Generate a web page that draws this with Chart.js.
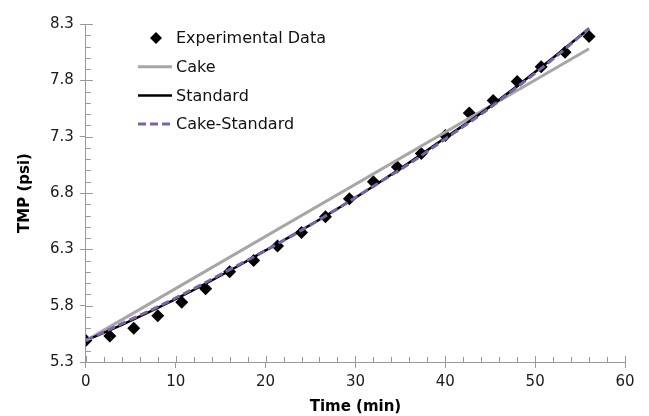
<!DOCTYPE html>
<html>
<head>
<meta charset="utf-8">
<title>TMP vs Time</title>
<script src="https://cdn.jsdelivr.net/npm/chart.js@4.4.1/dist/chart.umd.min.js"></script>
<style>
  html, body { margin: 0; padding: 0; background: #fff; }
  #wrap { width: 649px; height: 416px; }
</style>
</head>
<body>
<div id="wrap"><canvas id="chart" width="649" height="416"></canvas></div>
<script>
/* ---------- data ---------- */
const expTime = [0, 2.67, 5.33, 8, 10.67, 13.33, 16, 18.67, 21.33, 24, 26.67,
                 29.33, 32, 34.67, 37.33, 40, 42.67, 45.33, 48, 50.67, 53.33, 56];
const expTmp  = [5.49, 5.53, 5.60, 5.71, 5.83, 5.95, 6.10, 6.20, 6.33, 6.45, 6.59,
                 6.75, 6.90, 7.03, 7.15, 7.31, 7.51, 7.62, 7.79, 7.92, 8.05, 8.19];

const cakeTime = [0, 56];
const cakeTmp  = [5.49, 8.08];

const modelTime   = [0, 4, 8, 12, 16, 20, 24, 28, 32, 36, 40, 44, 48, 52, 56];
const standardTmp = [5.49, 5.63, 5.78, 5.94, 6.11, 6.29, 6.47, 6.66, 6.86, 7.07, 7.29, 7.51, 7.75, 8.00, 8.26];
const cakeStdTmp  = [5.49, 5.64, 5.79, 5.95, 6.12, 6.29, 6.47, 6.66, 6.86, 7.06, 7.28, 7.50, 7.74, 7.99, 8.26];

const yTicks = [5.3, 5.8, 6.3, 6.8, 7.3, 7.8, 8.3];
const xTicks = [0, 10, 20, 30, 40, 50, 60];

const FONT = '"DejaVu Sans", "Liberation Sans", Arial, sans-serif';
const AXIS = '#999999';

const pts = (xs, ys) => xs.map((x, i) => ({ x, y: ys[i] }));

/* ---------- legend inside the plot (like the Excel one) ---------- */
const legendBox = { x: 138, y: 38, row: 28.7, sample: 34, gap: 4 };

const insideLegend = {
  id: 'insideLegend',
  afterDraw(chart){
    const ctx = chart.ctx;
    const sets = chart.data.datasets.slice().sort((a, b) => a.legendIdx - b.legendIdx);
    ctx.save();
    ctx.font = '16px ' + FONT;
    ctx.textBaseline = 'middle';
    ctx.fillStyle = '#111';
    sets.forEach((ds, i) => {
      const y = legendBox.y + i * legendBox.row;
      const x0 = legendBox.x, x1 = legendBox.x + legendBox.sample;
      if(ds.showLine === false){
        const cx = (x0 + x1) / 2 + 1, r = 6;
        ctx.beginPath();
        ctx.moveTo(cx - r, y); ctx.lineTo(cx, y - r);
        ctx.lineTo(cx + r, y); ctx.lineTo(cx, y + r);
        ctx.closePath();
        ctx.fillStyle = ds.backgroundColor;
        ctx.fill();
      }else{
        ctx.beginPath();
        ctx.setLineDash(ds.borderDash || []);
        ctx.strokeStyle = ds.borderColor;
        ctx.lineWidth = ds.borderWidth;
        ctx.moveTo(x0, y); ctx.lineTo(x1, y);
        ctx.stroke();
        ctx.setLineDash([]);
      }
      ctx.fillStyle = '#111';
      ctx.fillText(ds.label, x1 + legendBox.gap, y + 1);
    });
    ctx.restore();
  }
};

/* ---------- inner / minor tick marks ---------- */
const minorTicks = {
  id: 'minorTicks',
  afterDraw(chart){
    const { ctx, scales: { x, y } } = chart;
    ctx.save();
    ctx.strokeStyle = AXIS;
    ctx.lineWidth = 1;
    ctx.beginPath();
    for(let v = 0; v <= 60; v += 2){
      const px = Math.round(x.getPixelForValue(v)) + 0.5;
      const len = v % 10 === 0 ? 6 : 5;
      ctx.moveTo(px, y.bottom); ctx.lineTo(px, y.bottom - len);
    }
    for(let k = 0; k <= 30; k++){
      const v = 5.3 + k * 0.1;
      const py = Math.round(y.getPixelForValue(v)) + 0.5;
      const len = k % 5 === 0 ? 7 : 5;
      ctx.moveTo(x.left, py); ctx.lineTo(x.left + len, py);
    }
    ctx.stroke();
    ctx.restore();
  }
};

/* ---------- chart ---------- */
const axisCommon = {
  type: 'linear',
  grid: { display: true, drawOnChartArea: false, drawTicks: true, tickLength: 6, color: AXIS },
  border: { display: true, color: AXIS, width: 1 }
};

new Chart(document.getElementById('chart').getContext('2d'), {
  type: 'scatter',
  data: {
    datasets: [
      {
        label: 'Cake-Standard', legendIdx: 3,
        data: pts(modelTime, cakeStdTmp),
        showLine: true, borderColor: '#7a62ab', borderWidth: 3, borderDash: [8, 4],
        pointRadius: 0, tension: 0.4, cubicInterpolationMode: 'monotone'
      },
      {
        label: 'Standard', legendIdx: 2,
        data: pts(modelTime, standardTmp),
        showLine: true, borderColor: '#000000', borderWidth: 2.5,
        pointRadius: 0, tension: 0.4, cubicInterpolationMode: 'monotone'
      },
      {
        label: 'Cake', legendIdx: 1,
        data: pts(cakeTime, cakeTmp),
        showLine: true, borderColor: '#a6a6a6', borderWidth: 3,
        pointRadius: 0
      },
      {
        label: 'Experimental Data', legendIdx: 0,
        data: pts(expTime, expTmp),
        showLine: false, pointStyle: 'rectRot', pointRadius: 6.5,
        backgroundColor: '#000000', borderColor: '#000000', borderWidth: 0
      }
    ]
  },
  options: {
    responsive: false,
    animation: false,
    devicePixelRatio: 1,
    layout: { padding: { top: 24, right: 24, left: 8, bottom: 0 } },
    plugins: { legend: { display: false }, tooltip: { enabled: false } },
    scales: {
      x: {
        ...axisCommon,
        min: 0, max: 60,
        afterBuildTicks: s => { s.ticks = xTicks.map(v => ({ value: v })); },
        ticks: { padding: 5, color: '#1a1a1a', font: { family: FONT, size: 15 } },
        title: { display: true, text: 'Time (min)', color: '#000',
                 font: { family: FONT, size: 15, weight: 'bold' }, padding: { top: 2, bottom: 0 } }
      },
      y: {
        ...axisCommon,
        min: 5.3, max: 8.3,
        afterBuildTicks: s => { s.ticks = yTicks.map(v => ({ value: v })); },
        ticks: { padding: 6, color: '#1a1a1a', font: { family: FONT, size: 15 },
                 callback: v => Number(v).toFixed(1) },
        title: { display: true, text: 'TMP (psi)', color: '#000',
                 font: { family: FONT, size: 15, weight: 'bold' }, padding: { top: 8, bottom: 10 } }
      }
    }
  },
  plugins: [minorTicks, insideLegend]
});
</script>
</body>
</html>
